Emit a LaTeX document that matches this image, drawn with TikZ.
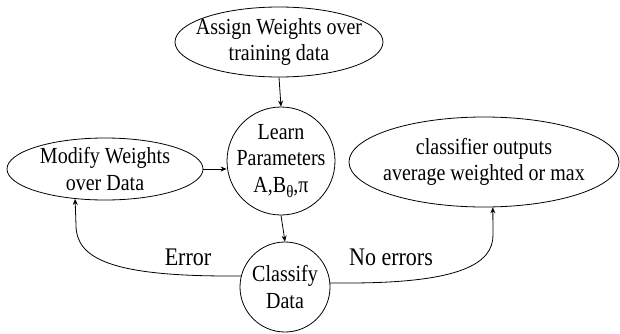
\documentclass[tikz,border=0pt]{standalone}
\usepackage{fontspec}
\setmainfont{Liberation Serif}
\usetikzlibrary{shapes.geometric,arrows.meta}
\newcommand\tl[1]{\scalebox{1}[1.15]{#1}}
\begin{document}
\begin{tikzpicture}[x=1pt,y=1pt,
  every node/.style={font=\fontsize{20}{26.5}\selectfont},
  blob/.style={ellipse,draw,line width=0.8pt,inner sep=0pt},
  txt/.style={align=center,inner sep=0pt},
  conn/.style={line width=0.8pt,-{Stealth[length=6pt,width=5pt]}},
  lab/.style={inner sep=0pt,font=\fontsize{22}{26}\selectfont}]
\useasboundingbox (0,0) rectangle (620,333);
\node[blob,minimum width=208,minimum height=70] (assign) at (279,291) {};
\node[txt] (assignt) at (assign.center) {\tl{Assign Weights over}\\\tl{training data}};
\node[blob,minimum width=108,minimum height=108] (learn) at (281,172) {};
\node[txt] (learnt) at (learn.center) {\tl{Learn}\\\tl{Parameters}\\\tl{A,B\raisebox{-0.5ex}{\fontsize{15}{15}\selectfont θ},π}};
\node[blob,minimum width=196,minimum height=62] (modify) at (105,164) {};
\node[txt] (modifyt) at (modify.center) {\tl{Modify Weights}\\\tl{over Data}};
\node[blob,minimum width=270,minimum height=90] (out) at (484,171) {};
\node[txt] (outt) at (out.center) {\tl{classifier outputs}\\\tl{average weighted or max}};
\node[blob,minimum width=90,minimum height=90] (classify) at (285,46) {};
\node[txt] (classifyt) at (classify.center) {\tl{Classify}\\\tl{Data}};
\draw[conn] (assign.south) -- (learn.north);
\draw[conn] (modify.east) -- (modify.east -| learn.west);
\draw[conn] (learn.south) -- (classify.north);
\draw[conn] (classify.166) -- (229,57) .. controls (110,57) and (76,75) .. (76,108) -- (modify.225.6);
\draw[conn] (classify.5) -- (348,50) .. controls (462,50) and (493,70) .. (493,98) -- (out.281.3);
\node[lab] (err) at (188,76) {\tl{Error}};
\node[lab] (noerr) at (391,76) {\tl{No errors}};
\end{tikzpicture}
\end{document}
